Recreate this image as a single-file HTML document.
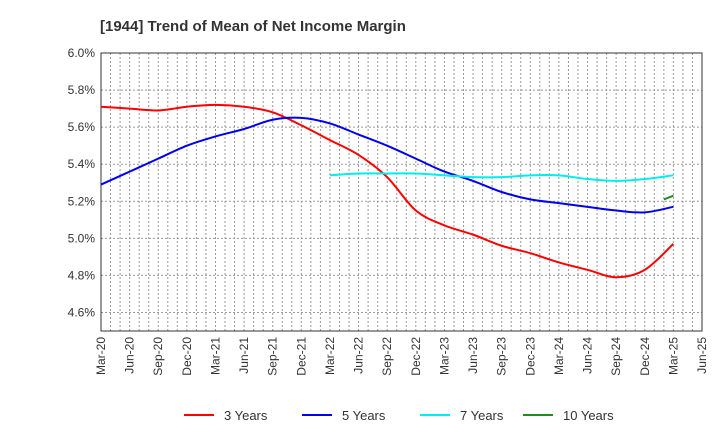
<!DOCTYPE html>
<html><head><meta charset="utf-8"><style>
body{margin:0;background:#fff;font-family:"Liberation Sans",sans-serif;}
</style></head><body>
<svg id="chart" width="720" height="440" xmlns="http://www.w3.org/2000/svg" font-family="Liberation Sans, sans-serif">
<text x="100" y="31" font-size="15" font-weight="bold" fill="#333">[1944]  Trend of Mean of Net Income Margin</text>
<g id="grid"></g><g id="axes"></g><g id="series"></g><g id="legend"></g>
</svg>
<script>
const xTickLabels=["Mar-20","Jun-20","Sep-20","Dec-20","Mar-21","Jun-21","Sep-21","Dec-21","Mar-22","Jun-22","Sep-22","Dec-22","Mar-23","Jun-23","Sep-23","Dec-23","Mar-24","Jun-24","Sep-24","Dec-24","Mar-25","Jun-25"];
const yTicks=[4.6,4.8,5.0,5.2,5.4,5.6,5.8,6.0];
const seriesNames=["3 Years","5 Years","7 Years","10 Years"];
const seriesColors=["#ff0000","#0000ee","#00eeee","#228b22"];
const years3=[5.71,5.70,5.69,5.71,5.72,5.71,5.68,5.61,5.53,5.45,5.33,5.15,5.07,5.02,4.96,4.92,4.87,4.83,4.79,4.83,4.97];
const years3Start=0;
const years5=[5.29,5.36,5.43,5.50,5.55,5.59,5.64,5.65,5.62,5.56,5.50,5.43,5.36,5.31,5.25,5.21,5.19,5.17,5.15,5.14,5.17];
const years5Start=0;
const years7=[5.34,5.35,5.35,5.35,5.34,5.33,5.33,5.34,5.34,5.32,5.31,5.32,5.34];
const years7Start=8;
const years10=[5.21,5.23];
const years10Start=19.667;
const NS="http://www.w3.org/2000/svg";
const L=101,R=702,T=53,B=331,yMin=4.5,yMax=6.0;
const xs=q=>L+q*(R-L)/21;
const ys=v=>B-(v-yMin)/(yMax-yMin)*(B-T);
function mk(tag,attrs,parent){const e=document.createElementNS(NS,tag);for(const k in attrs)e.setAttribute(k,attrs[k]);parent.appendChild(e);return e;}
const grid=document.getElementById('grid'),axes=document.getElementById('axes'),ser=document.getElementById('series'),leg=document.getElementById('legend');
for(let m=1;m<63;m++){const x=L+m*(R-L)/63;
const g=mk('line',{x1:x,x2:x,y1:T,y2:B,stroke:'#999','stroke-dasharray':'2,2','stroke-width':1},grid);

}
yTicks.forEach(v=>{const y=ys(v);
const g=mk('line',{x1:L,x2:R,y1:y,y2:y,stroke:'#999','stroke-dasharray':'2,2'},grid);


const t=mk('text',{x:L-6,y:y+4,'text-anchor':'end','font-size':12,fill:'#333'},axes);t.textContent=v.toFixed(1)+'%';

});
const fr=mk('rect',{x:L,y:T,width:R-L,height:B-T,fill:'none',stroke:'#333'},axes);


xTickLabels.forEach((s,i)=>{const x=xs(i);
const t=mk('text',{transform:`translate(${x+4},${B+6}) rotate(-90)`,'text-anchor':'end','font-size':12,fill:'#333'},axes);t.textContent=s;

});
function path(vals,start,step){const p=vals.map((v,i)=>[xs(start+i*step),ys(v)]);let d=`M${p[0][0]},${p[0][1]}`;
for(let i=0;i<p.length-1;i++){const p0=p[i-1]||p[i],p1=p[i],p2=p[i+1],p3=p[i+2]||p2;
d+=` C${p1[0]+(p2[0]-p0[0])/6},${p1[1]+(p2[1]-p0[1])/6} ${p2[0]-(p3[0]-p1[0])/6},${p2[1]-(p3[1]-p1[1])/6} ${p2[0]},${p2[1]}`;}return d;}
const all=[[years3,years3Start,1],[years5,years5Start,1],[years7,years7Start,1],[years10,years10Start,1/3]];
const sn=['line-3-years','line-5-years','line-7-years','line-10-years'];
all.forEach((s,i)=>{const p=mk('path',{d:path(s[0],s[1],s[2]),fill:'none',stroke:seriesColors[i],'stroke-width':2},ser);

});
const lx=[184,302,420,523];
seriesNames.forEach((n,i)=>{const g=mk('g',{},leg);


mk('line',{x1:lx[i],x2:lx[i]+30,y1:415,y2:415,stroke:seriesColors[i],'stroke-width':2},g);
const t=mk('text',{x:lx[i]+40,y:420,'font-size':13,fill:'#333'},g);t.textContent=n;});
</script>
</body></html>
